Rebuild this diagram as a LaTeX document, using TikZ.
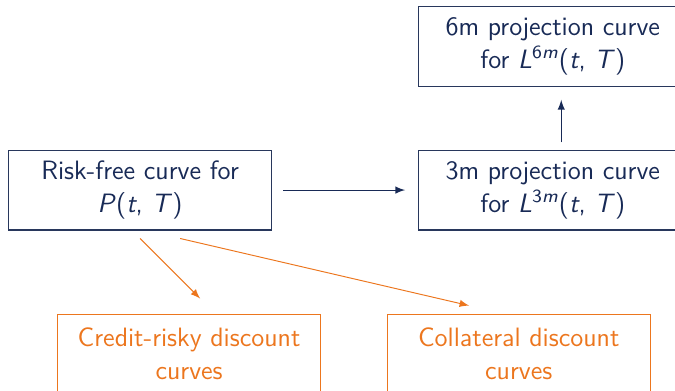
\documentclass[tikz,border=0pt]{standalone}
\usepackage{tikz}
\usetikzlibrary{positioning}
\definecolor{navy}{RGB}{24,42,86}
\definecolor{brightorange}{RGB}{236,118,30}
\tikzset{font=\fontsize{11}{13.6}\selectfont\sffamily}

\begin{document}
\begin{tikzpicture}[every node/.style={minimum height={33pt},minimum width={109pt},align=center},
    bluebox/.style={draw=navy!85!gray,text=navy,line width=0.5pt},
    orangebox/.style={draw=brightorange,text=brightorange,line width=0.5pt},
    bluearrow/.style={navy,line width=0.4pt,-latex},
    orangearrow/.style={brightorange,line width=0.4pt,-latex}]
    \useasboundingbox (-58pt,-82.8pt) rectangle (221.5pt,78.7pt);

    \node[bluebox] (riskfree) at (0,0) { Risk-free curve for\\ \textit{P}(\textit{t}, \textit{T}) };
    \node[bluebox,right=60.4pt of riskfree,minimum width=111pt] (threem) { 3m projection curve\\ for \textit{L}\textsuperscript{3\textit{m}}(\textit{t}, \textit{T}) };
    \node[bluebox,above=26pt of threem,minimum width=111pt] (sixm) { 6m projection curve\\ for \textit{L}\textsuperscript{6\textit{m}}(\textit{t}, \textit{T}) };
    \node[orangebox,below=34.4pt of riskfree,xshift=20.3pt] (credit) { Credit-risky discount\\ curves };
    \node[orangebox,right=27pt of credit] (collateral) { Collateral discount\\ curves };

    \draw[bluearrow,shorten <=4.5pt,shorten >=5.4pt] (riskfree) -- (threem);
    \draw[bluearrow,shorten <=3pt,shorten >=5.4pt] ([xshift=3.5pt]threem.north) -- ([xshift=3.5pt]sixm.south);
    \draw[orangearrow] ([yshift=-3.3pt]riskfree.south) -- ([xshift=4.6pt,yshift=6.2pt]credit.north);
    \draw[orangearrow] ([xshift=16.6pt,yshift=-3.3pt]riskfree.south) -- ([xshift=-20.5pt,yshift=3.3pt]collateral.north);
  \end{tikzpicture}
\end{document}
